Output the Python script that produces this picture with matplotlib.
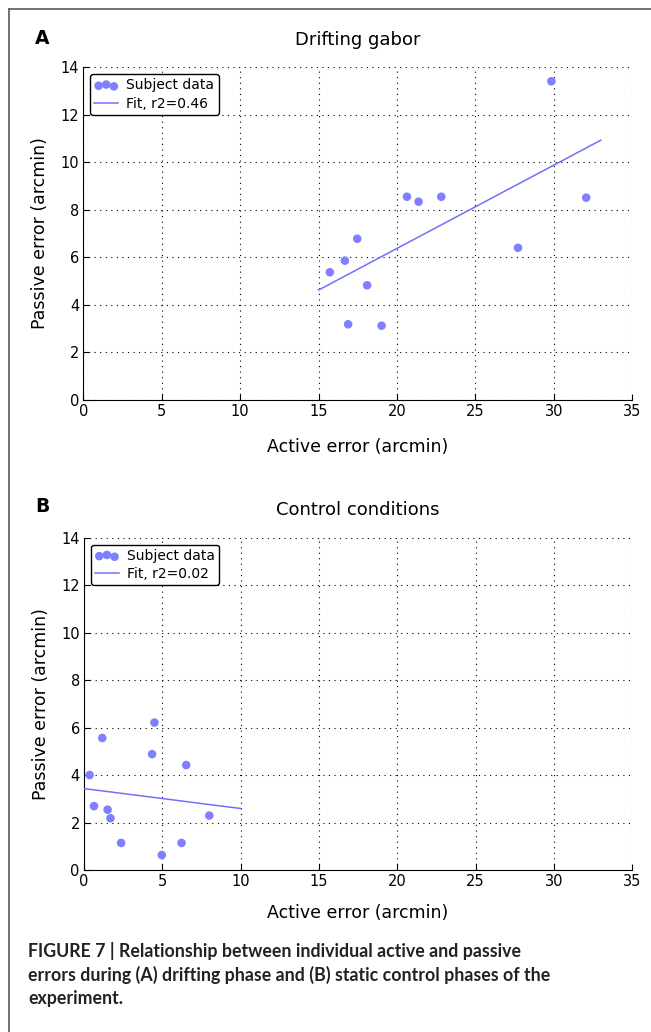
import numpy as np
import matplotlib
matplotlib.use("Agg")
import matplotlib.pyplot as plt
from matplotlib.lines import Line2D

# Panel A: drifting gabor
active_a = [29.85, 32.07, 20.64, 21.38, 22.83, 17.47, 16.68, 15.72, 18.10, 16.89, 19.02, 27.72]
passive_a = [13.41, 8.51, 8.55, 8.34, 8.55, 6.78, 5.86, 5.37, 4.82, 3.18, 3.12, 6.40]
fit_x_a = [15.0, 33.0]
fit_y_a = [4.62, 10.93]

# Panel B: control conditions
active_b = [0.36, 1.17, 4.50, 4.35, 6.53, 0.64, 1.51, 1.69, 2.37, 4.97, 6.23, 8.00]
passive_b = [4.00, 5.56, 6.21, 4.88, 4.42, 2.69, 2.54, 2.18, 1.14, 0.63, 1.14, 2.29]
fit_x_b = [0.0, 10.0]
fit_y_b = [3.43, 2.59]

titles = ["Drifting gabor", "Control conditions"]
fit_labels = ["Fit, r2=0.46", "Fit, r2=0.02"]
panel_letters = ["A", "B"]
xticks = [0, 5, 10, 15, 20, 25, 30, 35]
yticks = [0, 2, 4, 6, 8, 10, 12, 14]

pt_color = "#7f7fff"

fig = plt.figure(figsize=(6.51, 10.32), dpi=100)

# rahmen um die figur
fig.add_artist(Line2D([9 / 651, 9 / 651], [0, 1 - 9 / 1032], transform=fig.transFigure, color="#666666", lw=1.3))
fig.add_artist(Line2D([9 / 651, 1], [1 - 9 / 1032, 1 - 9 / 1032], transform=fig.transFigure, color="#666666", lw=1.3))

axes_pos = [[0.128, 0.6126, 0.843, 0.3222], [0.129, 0.157, 0.842, 0.322]]
data = [(active_a, passive_a, fit_x_a, fit_y_a), (active_b, passive_b, fit_x_b, fit_y_b)]
letter_y = [1 - 38 / 1032, 1 - 506 / 1032]
xlabel_pad = [14, 11]

for i in range(2):
    ax = fig.add_axes(axes_pos[i])
    x, y, fx, fy = data[i]
    ax.scatter(x, y, s=38, color=pt_color, edgecolors="none", label="Subject data", zorder=3)
    ax.plot(fx, fy, color="#7070ff", lw=1.1, label=fit_labels[i], zorder=3)

    ax.set_xlim(0, 35)
    ax.set_ylim(0, 14)
    ax.set_xticks(xticks)
    ax.set_yticks(yticks)
    ax.tick_params(direction="in", length=4, labelsize=10.5, top=False, right=False, pad=3)
    ax.spines["top"].set_visible(False)
    ax.spines["right"].set_visible(False)
    ax.grid(True, color="black", linestyle=(0, (1, 4)), linewidth=0.8)

    ax.set_title(titles[i], fontsize=13, pad=16)
    ax.set_xlabel("Active error (arcmin)", fontsize=12.5, labelpad=xlabel_pad[i])
    ax.set_ylabel("Passive error (arcmin)", fontsize=12.5, labelpad=8)

    leg = ax.legend(loc="upper left", fontsize=10, scatterpoints=3,
                    scatteryoffsets=[0.375, 0.5, 0.3125], fancybox=True,
                    framealpha=1, edgecolor="black", borderaxespad=0.5,
                    handlelength=1.7, handletextpad=0.6, borderpad=0.3, labelspacing=0.3)
    leg.get_frame().set_linewidth(1.0)

    fig.text(35 / 651, letter_y[i], panel_letters[i], fontsize=13.5, fontweight="bold", va="center")

caption = ("FIGURE 7 | Relationship between individual active and passive\n"
           "errors during (A) drifting phase and (B) static control phases of the\n"
           "experiment.")
fig.text(28 / 651, 1 - 942 / 1032, caption, fontsize=12.8, fontweight="bold",
         family=["Lato", "Liberation Sans", "DejaVu Sans"],
         va="top", ha="left", linespacing=1.4, color="#222222")

fig.savefig("out.png", dpi=100)
